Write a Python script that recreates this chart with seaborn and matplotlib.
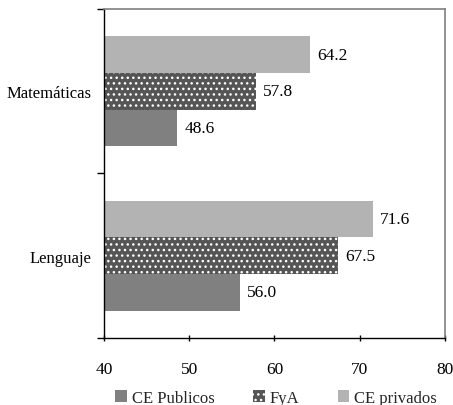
import matplotlib
matplotlib.use("Agg")
import matplotlib.pyplot as plt
from matplotlib.patches import Patch
import seaborn as sns
import pandas as pd

categories = ["Matemáticas", "Lenguaje"]
series = ["CE Publicos", "FyA", "CE privados"]
ce_publicos = [48.6, 56.0]
fya = [57.8, 67.5]
ce_privados = [64.2, 71.6]
xticks = [40, 50, 60, 70, 80]

colors = {"CE Publicos": "#808080", "FyA": "#555555", "CE privados": "#b3b3b3"}
hatches = {"CE Publicos": "", "FyA": "...", "CE privados": ""}

rows = []
for name, vals in zip(series, [ce_publicos, fya, ce_privados]):
    for cat, v in zip(categories, vals):
        rows.append({"Asignatura": cat, "Grupo": name, "Puntaje": v})
df = pd.DataFrame(rows)

sns.set_theme(style="white")
plt.rcParams["font.family"] = ["Liberation Serif", "DejaVu Serif"]
plt.rcParams["hatch.linewidth"] = 1.0

fig = plt.figure(figsize=(4.53, 4.06), dpi=100)
ax = fig.add_axes([0.2296, 0.165, 0.7527, 0.8104])

draw_order = ["CE privados", "FyA", "CE Publicos"]
sns.barplot(data=df, y="Asignatura", x="Puntaje", hue="Grupo",
            order=categories, hue_order=draw_order,
            palette=colors, orient="h", width=2 / 3, dodge=True,
            saturation=1, errorbar=None, ax=ax, legend=False)

for cont, name in zip(ax.containers, draw_order):
    for bar in cont:
        if hatches[name]:
            bar.set_hatch(hatches[name])
            bar.set_edgecolor("white")
        else:
            bar.set_edgecolor(colors[name])
        bar.set_linewidth(0)
    ax.bar_label(cont, fmt="%.1f", padding=5, fontsize=12.5, color="black")

ax.set_xlim(40, 80)
ax.set_xticks(xticks)
ax.set_xticklabels([str(t) for t in xticks], fontsize=12.5, color="black")
ax.set_ylim(1.5, -0.5)
ax.set_yticks([0, 1])
ax.set_yticklabels(categories, fontsize=12, color="black")
ax.set_yticks([-0.5, 0.5, 1.5], minor=True)
ax.tick_params(axis="y", which="major", length=0, pad=9)
ax.tick_params(axis="y", which="minor", length=5, width=1, color="black", left=True)
ax.tick_params(axis="x", which="major", length=5, width=1, direction="inout",
               color="black", bottom=True, pad=14)
ax.set_xlabel("")
ax.set_ylabel("")

for side in ["left", "bottom"]:
    ax.spines[side].set_color("black")
    ax.spines[side].set_linewidth(1)
for side in ["top", "right"]:
    ax.spines[side].set_color("#808080")
    ax.spines[side].set_linewidth(1.2)

handles = []
for s in series:
    if hatches[s]:
        handles.append(Patch(facecolor=colors[s], edgecolor="white", hatch=hatches[s], linewidth=0))
    else:
        handles.append(Patch(facecolor=colors[s], edgecolor=colors[s], linewidth=0))
fig.legend(handles, series, loc="center", bbox_to_anchor=(0.61, 0.018), ncol=3,
           frameon=False, fontsize=12, handlelength=0.7, handleheight=0.7,
           handletextpad=0.3, columnspacing=2.3, borderaxespad=0)

fig.savefig("out.png", dpi=100)
